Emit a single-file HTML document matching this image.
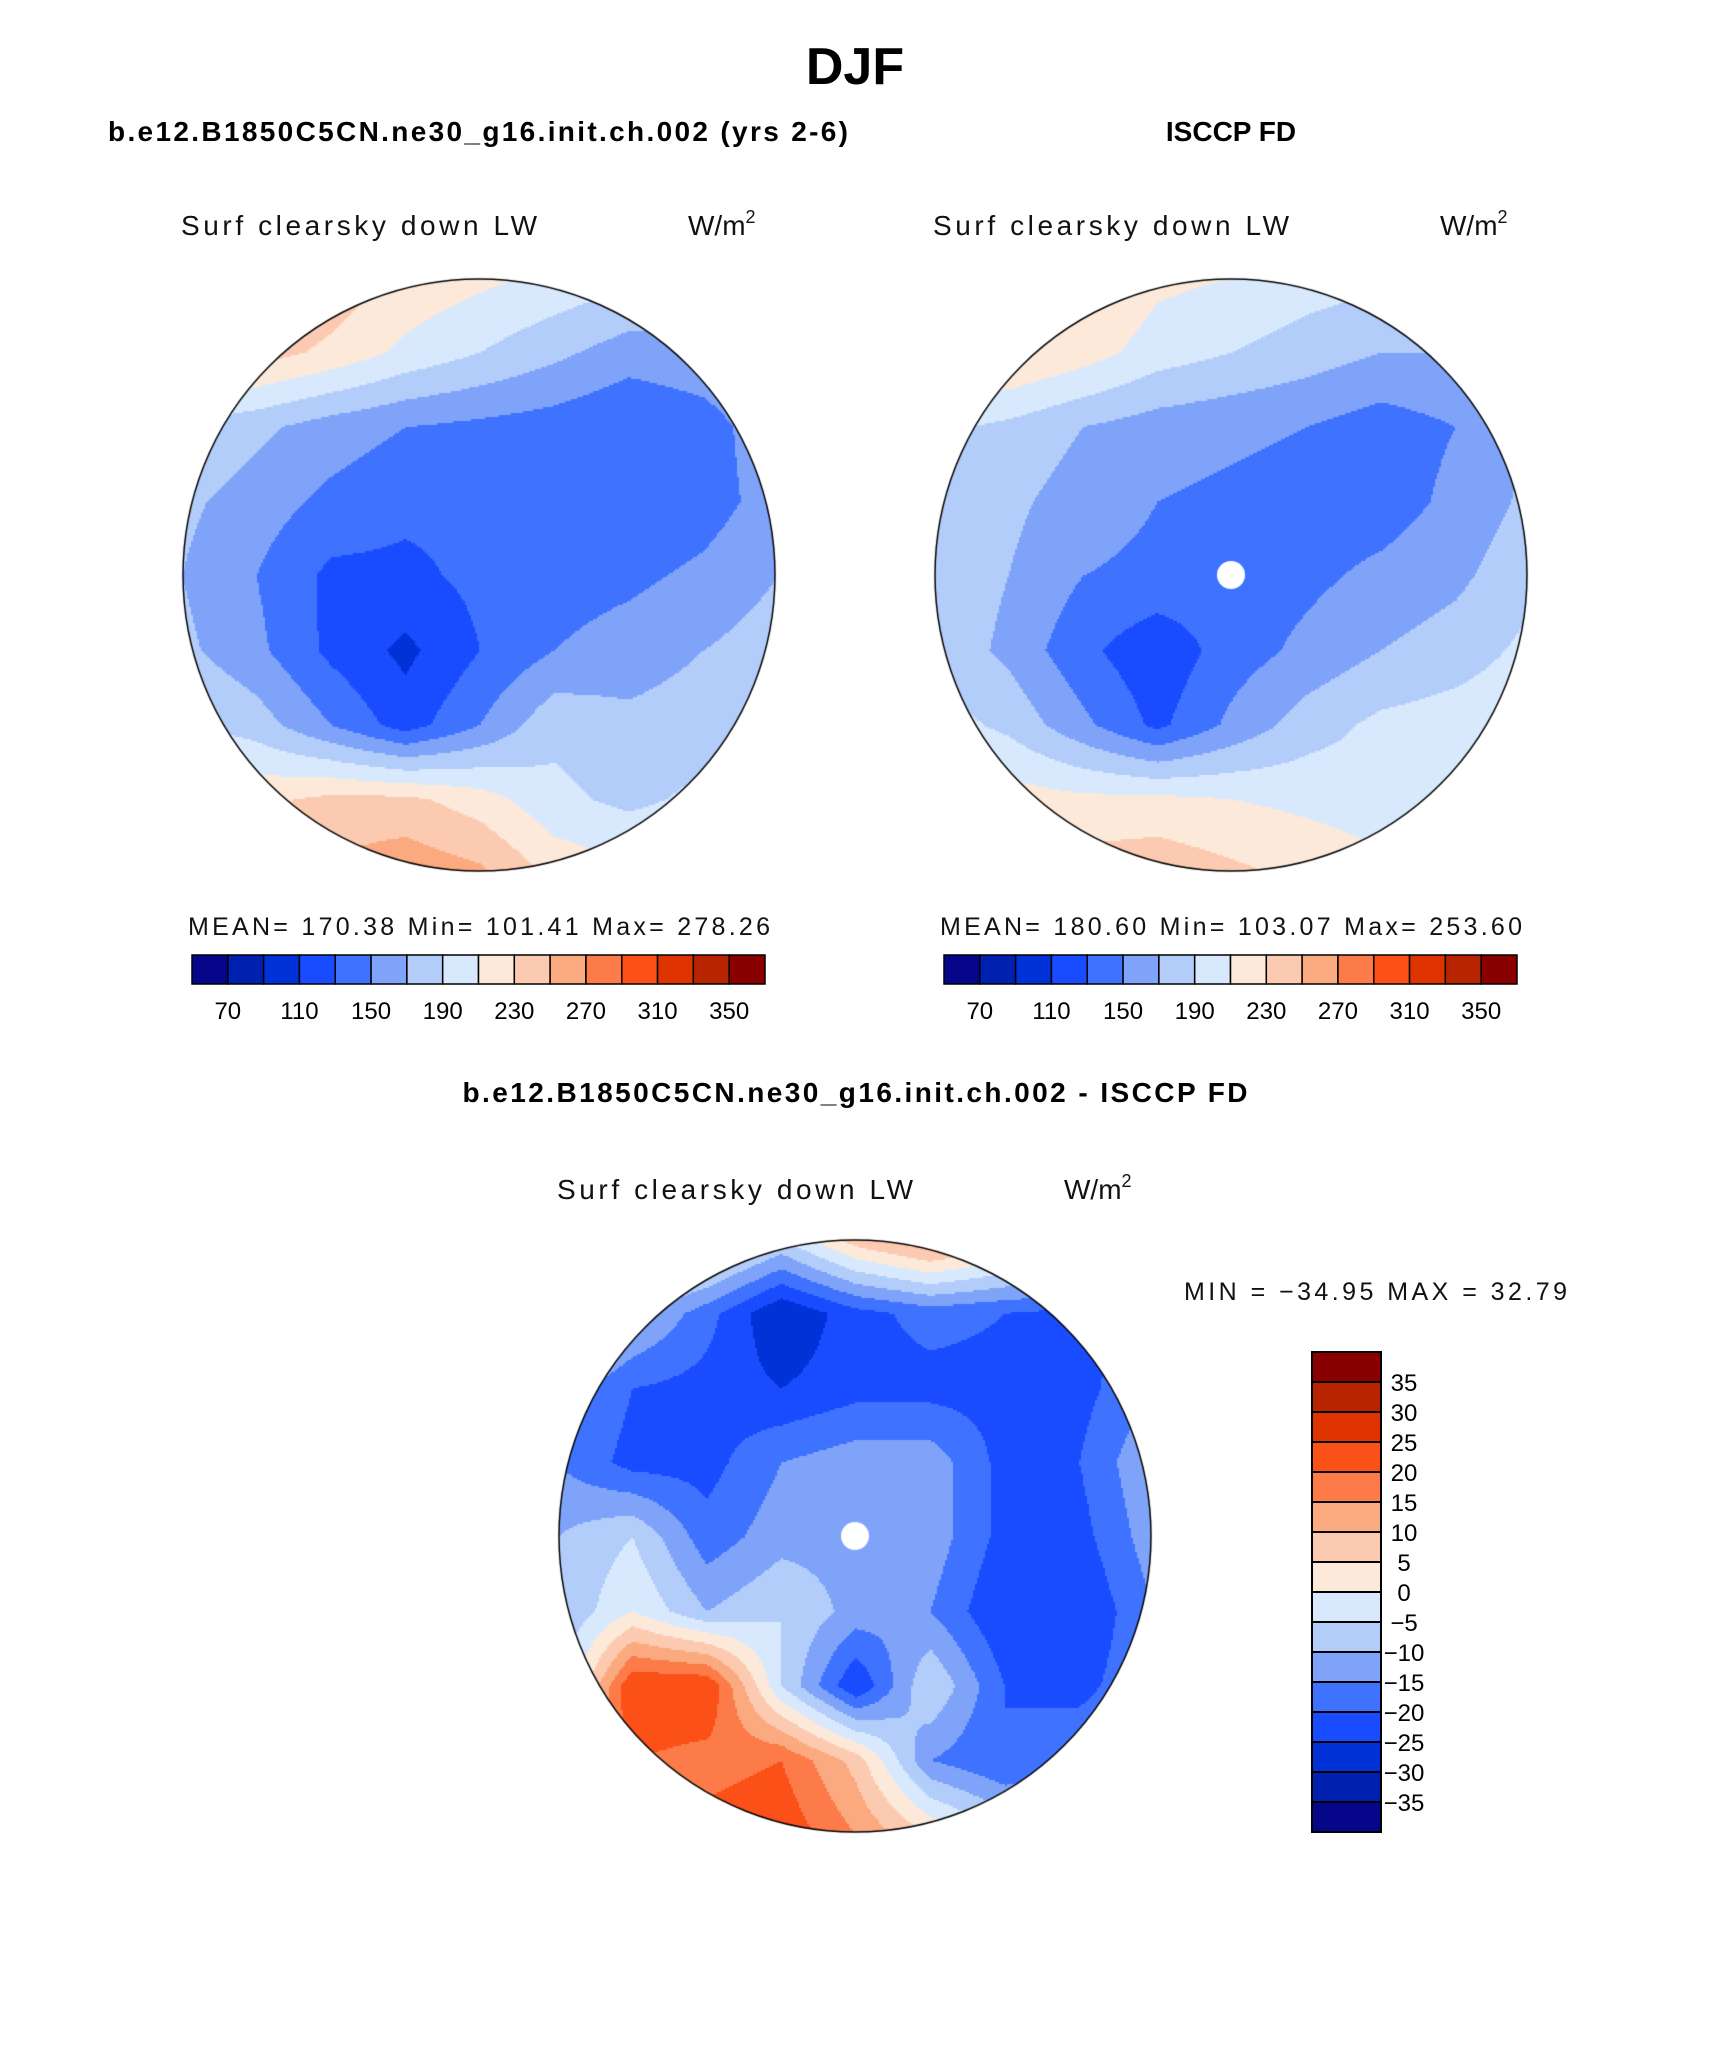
<!DOCTYPE html>
<html><head><meta charset="utf-8"><style>
html,body{margin:0;padding:0;background:#fff;}
#root{position:relative;width:1710px;height:2061px;overflow:hidden;font-family:"Liberation Sans",sans-serif;}
canvas{position:absolute;}
svg{position:absolute;left:0;top:0;}
</style></head><body>
<div id="root">
<canvas id="c1"></canvas>
<canvas id="c2"></canvas>
<canvas id="c3"></canvas>
<svg id="s" width="1710" height="2061">
<text x="855" y="84" text-anchor="middle" font-size="52" font-weight="bold">DJF</text>
<text x="108" y="141" font-size="28" font-weight="bold" textLength="740">b.e12.B1850C5CN.ne30_g16.init.ch.002 (yrs 2-6)</text>
<text x="1231" y="141" text-anchor="middle" font-size="28" font-weight="bold">ISCCP FD</text>
<text x="855" y="1102" text-anchor="middle" font-size="28" font-weight="bold" textLength="785">b.e12.B1850C5CN.ne30_g16.init.ch.002 - ISCCP FD</text>
<g font-size="28" fill="#111">
<text x="181" y="235" textLength="356">Surf clearsky down LW</text>
<text x="688" y="235">W/m<tspan dy="-12" font-size="18">2</tspan></text>
<text x="933" y="235" textLength="356">Surf clearsky down LW</text>
<text x="1440" y="235">W/m<tspan dy="-12" font-size="18">2</tspan></text>
<text x="557" y="1199" textLength="356">Surf clearsky down LW</text>
<text x="1064" y="1199">W/m<tspan dy="-12" font-size="18">2</tspan></text>
</g>
<g font-size="25" fill="#111">
<text x="188" y="935" textLength="582">MEAN= 170.38   Min= 101.41   Max= 278.26</text>
<text x="940" y="935" textLength="582">MEAN= 180.60   Min= 103.07   Max= 253.60</text>
<text x="1184" y="1300" textLength="383">MIN = −34.95 MAX =   32.79</text>
</g>
<g id="bars"></g>
</svg>
</div>
<script>
// ---- data ----
const palette=['#06068a','#0020b0','#0032d8','#1a4cff','#3f73ff','#7fa3f8','#b3cdfb','#d8e9fd','#fde9d9','#fccab0','#fba97f','#fc7b48','#fb5018','#e03400','#b82400','#8a0000'];
const absTicks=[70,110,150,190,230,270,310,350];
const diffTicks=[35,30,25,20,15,10,5,0,-5,-10,-15,-20,-25,-30,-35];
const modelGrid=[
[245,255,245,225,215,205,195,185,180],
[235,240,225,205,190,175,160,165,175],
[190,175,160,150,145,140,130,140,165],
[175,160,145,135,135,140,130,140,160],
[170,150,125,125,135,140,145,155,170],
[175,155,125,105,130,150,160,170,180],
[195,180,150,120,150,185,175,180,190],
[220,225,235,235,220,195,185,195,205],
[230,245,255,265,255,225,215,215,215]];
const obsGrid=[
[240,245,235,215,210,200,195,190,185],
[230,235,220,200,190,180,170,170,175],
[195,185,170,160,155,150,140,150,170],
[190,175,160,150,145,140,140,155,175],
[185,170,150,145,140,145,155,165,185],
[185,165,135,115,140,155,170,180,195],
[200,185,155,125,155,180,195,200,205],
[215,220,215,215,210,205,200,205,210],
[225,235,240,245,235,225,215,215,215]];
const diffGrid=[
[5,8,5,-5,8,15,8,5,-15],
[5,-8,-18,-30,-22,-18,-20,-22,-18],
[-12,-20,-22,-25,-22,-22,-22,-22,-15],
[-15,-22,-22,-15,-12,-12,-22,-20,-10],
[-10,-5,-18,-12,-12,-12,-22,-22,-12],
[-10,0,-10,-5,-12,-15,-25,-25,-15],
[-8,25,25,-5,-25,-5,-20,-22,-15],
[15,20,18,20,8,-15,-20,-15,-10],
[18,20,22,24,15,5,-5,-8,-8]];

const R=296;
function absLevel(v){return Math.max(0,Math.min(15,Math.floor((v-50)/20)));}
function diffLevel(v){return Math.max(0,Math.min(15,Math.floor((v+40)/5)));}
function interp(g,fx,fy){const n=g.length-1;let x=Math.max(0,Math.min(n,fx*n)),y=Math.max(0,Math.min(n,fy*n));
 const i=Math.min(n-1,Math.floor(x)),j=Math.min(n-1,Math.floor(y));const tx=x-i,ty=y-j;
 return g[j][i]*(1-tx)*(1-ty)+g[j][i+1]*tx*(1-ty)+g[j+1][i]*(1-tx)*ty+g[j+1][i+1]*tx*ty;}
function drawMap(id,cx,cy,grid,lev,hole){
 const c=document.getElementById(id);c.width=2*R+4;c.height=2*R+4;
 c.style.left=(cx-R-2)+'px';c.style.top=(cy-R-2)+'px';
 const ctx=c.getContext('2d');ctx.save();ctx.beginPath();ctx.arc(R+2,R+2,R,0,Math.PI*2);ctx.clip();
 const s=2;
 for(let y=0;y<2*R+4;y+=s)for(let x=0;x<2*R+4;x+=s){
  const v=interp(grid,x/(2*R+4),y/(2*R+4));ctx.fillStyle=palette[lev(v)];ctx.fillRect(x,y,s,s);}
 if(hole){ctx.fillStyle='#fff';ctx.beginPath();ctx.arc(R+2,R+2,14,0,Math.PI*2);ctx.fill();}
 ctx.restore();
 ctx.strokeStyle='#000';ctx.lineWidth=1.5;ctx.beginPath();ctx.arc(R+2,R+2,R,0,Math.PI*2);ctx.stroke();
}
drawMap('c1',479,575,modelGrid,absLevel,false);
drawMap('c2',1231,575,obsGrid,absLevel,true);
drawMap('c3',855,1536,diffGrid,diffLevel,true);

const NS='http://www.w3.org/2000/svg';const bars=document.getElementById('bars');
function hbar(x0,name){
 const w=573/16;
 for(let k=0;k<16;k++){const r=document.createElementNS(NS,'rect');
  r.setAttribute('x',x0+k*w);r.setAttribute('y',955);r.setAttribute('width',w);r.setAttribute('height',29);
  r.setAttribute('fill',palette[k]);r.setAttribute('stroke','#000');r.setAttribute('stroke-width','1.5');
  
  
  bars.appendChild(r);}
 absTicks.forEach(t=>{const k=(t-50)/20;const tx=document.createElementNS(NS,'text');
  tx.setAttribute('x',x0+k*w);tx.setAttribute('y',1019);tx.setAttribute('text-anchor','middle');tx.setAttribute('font-size','24');
  tx.textContent=t;
  
  
  bars.appendChild(tx);});
}
hbar(192,'model-colorbar');hbar(944,'obs-colorbar');
(function(){const h=30,x0=1312,y0=1352;
 for(let k=0;k<16;k++){const r=document.createElementNS(NS,'rect');
  r.setAttribute('x',x0);r.setAttribute('y',y0+k*h);r.setAttribute('width',69);r.setAttribute('height',h);
  r.setAttribute('fill',palette[15-k]);r.setAttribute('stroke','#000');r.setAttribute('stroke-width','2');
  
  
  bars.appendChild(r);}
 diffTicks.forEach((t,i)=>{const tx=document.createElementNS(NS,'text');
  tx.setAttribute('x',1404);tx.setAttribute('y',y0+(i+1)*h+9);tx.setAttribute('text-anchor','middle');tx.setAttribute('font-size','24');
  tx.textContent=t<0?'−'+(-t):String(t);
  
  
  bars.appendChild(tx);});
})();
</script>
</body></html>
